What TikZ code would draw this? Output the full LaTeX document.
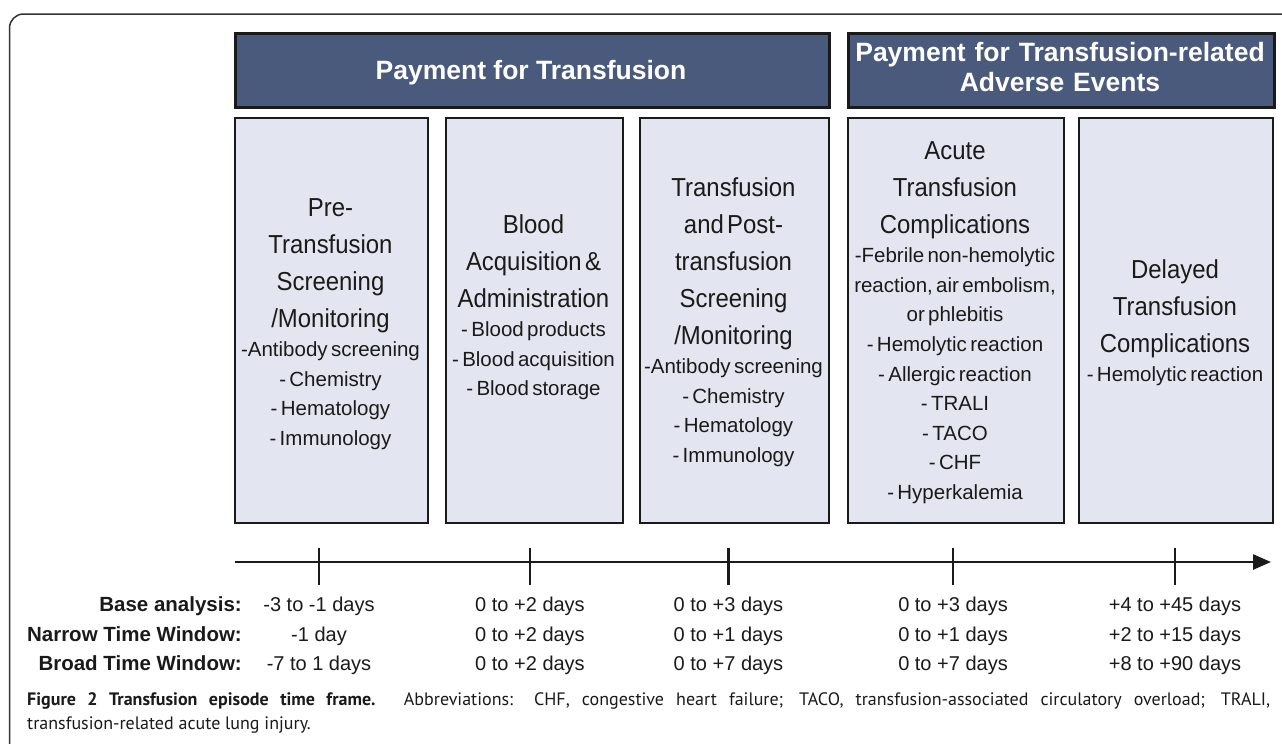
\documentclass[tikz,border=0pt]{standalone}
\usepackage{fontspec}
\setmainfont{Liberation Sans}
\newfontfamily\titlefont[FakeStretch=0.92]{Liberation Sans}
\newfontfamily\capfont{PT Sans}
\usetikzlibrary{arrows.meta}
\definecolor{hdrblue}{HTML}{4A5A7D}
\definecolor{boxfill}{HTML}{E3E6F0}
\definecolor{ink}{HTML}{1A1A1A}
\newcommand\ttlsize{\titlefont\fontsize{26}{37}\selectfont}
\newcommand\lstsize{\fontsize{20.5}{29.6}\selectfont}
\begin{document}
\begin{tikzpicture}[x=1pt,y=-1pt,
  hdrbox/.style={draw=ink, line width=2.5pt, fill=hdrblue},
  stagebox/.style={draw=ink, line width=2pt, fill=boxfill},
  hdrtext/.style={text=white, font=\bfseries\fontsize{26.5}{30}\selectfont, inner sep=0pt, anchor=base, align=center},
  boxtext/.style={text=ink, inner sep=0pt, anchor=base, align=center},
  rowlab/.style={text=ink, font=\bfseries\fontsize{20.5}{24}\selectfont, inner sep=0pt, anchor=base east},
  rowval/.style={text=ink, font=\fontsize{20}{24}\selectfont, inner sep=0pt, anchor=base},
  tick/.style={draw=ink, line width=2.2pt},
  axis/.style={draw=ink, line width=2.5pt, -{Triangle[length=18pt,width=15pt]}}
]
\useasboundingbox (0,0) rectangle (1282,744);
\fill[white] (0,0) rectangle (1282,744);
% outer frame
\draw[line width=1.5pt, draw=black!80, rounded corners=14pt] (9.5,800) -- (9.5,14) -- (1320,14);

% headers
\node[hdrbox, minimum width=594pt, minimum height=74pt, inner sep=0pt, anchor=north west] (h1) at (234,32) {};
\node[hdrbox, minimum width=426pt, minimum height=74pt, inner sep=0pt, anchor=north west] (h2) at (847,32) {};
\node[hdrtext] (h1t) at (531,79.5) {Payment for Transfusion};
\node[hdrtext, text width=420pt] (h2t) at (1060,61) {Payment for Transfusion-related\par Adverse Events\par};

% stage boxes
\node[stagebox, minimum width=193pt, minimum height=405pt, inner sep=0pt, anchor=north west] (b1) at (234,117) {};
\node[stagebox, minimum width=177pt, minimum height=405pt, inner sep=0pt, anchor=north west] (b2) at (445,117) {};
\node[stagebox, minimum width=189pt, minimum height=405pt, inner sep=0pt, anchor=north west] (b3) at (639,117) {};
\node[stagebox, minimum width=216pt, minimum height=405pt, inner sep=0pt, anchor=north west] (b4) at (847,117) {};
\node[stagebox, minimum width=194pt, minimum height=405pt, inner sep=0pt, anchor=north west] (b5) at (1078,117) {};

\node[boxtext, text width=190pt] (t1) at (330.5,216) {{\ttlsize Pre-\par Transfusion\par Screening\par /Monitoring\par}{\lstsize -Antibody screening\par - Chemistry\par - Hematology\par - Immunology\par}};
\node[boxtext, text width=174pt] (t2) at (533.5,233) {{\ttlsize Blood\par Acquisition \&\par Administration\par}{\lstsize - Blood products\par - Blood acquisition\par - Blood storage\par}};
\node[boxtext, text width=186pt] (t3) at (733.5,196) {{\ttlsize Transfusion\par and Post-\par transfusion\par Screening\par /Monitoring\par}{\lstsize -Antibody screening\par - Chemistry\par - Hematology\par - Immunology\par}};
\node[boxtext, text width=213pt] (t4) at (955,159) {{\ttlsize Acute\par Transfusion\par Complications\par}{\lstsize -Febrile non-hemolytic\par reaction, air embolism,\par or phlebitis\par - Hemolytic reaction\par - Allergic reaction\par - TRALI\par - TACO\par - CHF\par - Hyperkalemia\par}};
\node[boxtext, text width=191pt] (t5) at (1175,278) {{\ttlsize Delayed\par Transfusion\par Complications\par}{\lstsize - Hemolytic reaction\par}};

% time axis
\coordinate (ax0) at (235,562);
\coordinate (ax1) at (1271,562);
\draw[axis] (ax0) -- (ax1);
\foreach \n/\x in {1/319,2/530,3/728.5,4/953,5/1175}{
  \coordinate (k\n a) at (\x,548);
  \coordinate (k\n b) at (\x,585);
  \draw[tick] (k\n a) -- (k\n b);
}

% row labels
\node[rowlab] (l1) at (242,611) {Base analysis:};
\node[rowlab] (l2) at (242,641) {Narrow Time Window:};
\node[rowlab] (l3) at (242,670) {Broad Time Window:};

% values
\node[rowval] (v11) at (319,611) {-3 to -1 days};
\node[rowval] (v12) at (319,641) {-1 day};
\node[rowval] (v13) at (319,670) {-7 to 1 days};
\node[rowval] (v21) at (530,611) {0 to +2 days};
\node[rowval] (v22) at (530,641) {0 to +2 days};
\node[rowval] (v23) at (530,670) {0 to +2 days};
\node[rowval] (v31) at (728.5,611) {0 to +3 days};
\node[rowval] (v32) at (728.5,641) {0 to +1 days};
\node[rowval] (v33) at (728.5,670) {0 to +7 days};
\node[rowval] (v41) at (953,611) {0 to +3 days};
\node[rowval] (v42) at (953,641) {0 to +1 days};
\node[rowval] (v43) at (953,670) {0 to +7 days};
\node[rowval] (v51) at (1175,611) {+4 to +45 days};
\node[rowval] (v52) at (1175,641) {+2 to +15 days};
\node[rowval] (v53) at (1175,670) {+8 to +90 days};

% caption
\node[inner sep=0pt, anchor=base west, text width=1243pt, align=justify, text=ink, font=\capfont\fontsize{18}{24}\selectfont] (cap) at (27,705) {\hbadness=10000 \textbf{Figure 2 Transfusion episode time frame.} Abbreviations: CHF, congestive heart failure; TACO, transfusion-associated circulatory overload; TRALI,\linebreak transfusion-related acute lung injury.\par};
\end{tikzpicture}
\end{document}
